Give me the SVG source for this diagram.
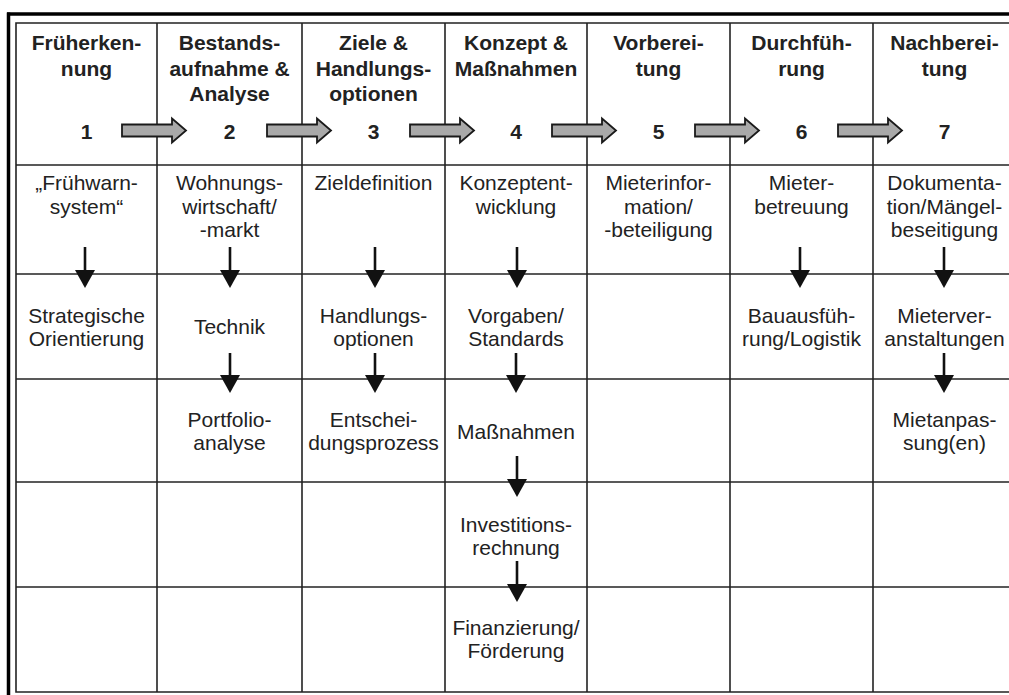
<svg xmlns="http://www.w3.org/2000/svg" width="1009" height="695" viewBox="0 0 1009 695">
<style>
  .grid { stroke: #222; stroke-width: 1.6; fill: none; }
  .frame { stroke: #000; stroke-width: 3.5; fill: none; }
  .h { font-family: "Liberation Sans", Arial, sans-serif; font-weight: bold; font-size: 21px; fill: #222; text-anchor: middle; }
  .t { font-family: "Liberation Sans", Arial, sans-serif; font-size: 21px; fill: #222; text-anchor: middle; }
  .down { stroke: #111; stroke-width: 2.6; fill: none; marker-end: url(#head); }
  .block { fill: #a9a9a9; stroke: #1a1a1a; stroke-width: 1.8; stroke-linejoin: miter; }
</style>
<defs>
  <marker id="head" viewBox="0 0 18 20" markerWidth="18" markerHeight="20" refX="0" refY="10" orient="auto" markerUnits="userSpaceOnUse">
    <path d="M0,0 L18,10 L0,20 z" fill="#111"/>
  </marker>
</defs>
<rect width="1009" height="695" fill="#fff"/>

<g id="frame">
  <line class="frame" x1="7" y1="14" x2="1009" y2="14"/>
  <line class="frame" x1="8.5" y1="12.5" x2="8.5" y2="695"/>
</g>

<g id="grid">
  <polyline class="grid" points="1009,23 16,23 16,692 1009,692"/>
  <line class="grid" x1="157" y1="23" x2="157" y2="692"/>
  <line class="grid" x1="302" y1="23" x2="302" y2="692"/>
  <line class="grid" x1="445" y1="23" x2="445" y2="692"/>
  <line class="grid" x1="587" y1="23" x2="587" y2="692"/>
  <line class="grid" x1="730" y1="23" x2="730" y2="692"/>
  <line class="grid" x1="873" y1="23" x2="873" y2="692"/>
  <line class="grid" x1="16" y1="165" x2="1009" y2="165"/>
  <line class="grid" x1="16" y1="274" x2="1009" y2="274"/>
  <line class="grid" x1="16" y1="379" x2="1009" y2="379"/>
  <line class="grid" x1="16" y1="482" x2="1009" y2="482"/>
  <line class="grid" x1="16" y1="587" x2="1009" y2="587"/>
</g>

<g id="header-1"><text class="h" x="86.5" y="50">Früherken-</text><text class="h" x="86.5" y="75.5">nung</text><text class="h" x="86.5" y="139">1</text></g>
<g id="header-2"><text class="h" x="229.5" y="50">Bestands-</text><text class="h" x="229.5" y="75.5">aufnahme &amp;</text><text class="h" x="229.5" y="101">Analyse</text><text class="h" x="229.5" y="139">2</text></g>
<g id="header-3"><text class="h" x="373.5" y="50">Ziele &amp;</text><text class="h" x="373.5" y="75.5">Handlungs-</text><text class="h" x="373.5" y="101">optionen</text><text class="h" x="373.5" y="139">3</text></g>
<g id="header-4"><text class="h" x="516" y="50">Konzept &amp;</text><text class="h" x="516" y="75.5">Maßnahmen</text><text class="h" x="516" y="139">4</text></g>
<g id="header-5"><text class="h" x="658.5" y="50">Vorberei-</text><text class="h" x="658.5" y="75.5">tung</text><text class="h" x="658.5" y="139">5</text></g>
<g id="header-6"><text class="h" x="801.5" y="50">Durchfüh-</text><text class="h" x="801.5" y="75.5">rung</text><text class="h" x="801.5" y="139">6</text></g>
<g id="header-7"><text class="h" x="944.5" y="50">Nachberei-</text><text class="h" x="944.5" y="75.5">tung</text><text class="h" x="944.5" y="139">7</text></g>

<g id="fruehwarnsystem"><text class="t" x="86.5" y="190">„Frühwarn-</text><text class="t" x="86.5" y="213.5">system“</text></g>
<g id="wohnungswirtschaft"><text class="t" x="229.5" y="190">Wohnungs-</text><text class="t" x="229.5" y="213.5">wirtschaft/</text><text class="t" x="229.5" y="237">-markt</text></g>
<g id="zieldefinition"><text class="t" x="373.5" y="190">Zieldefinition</text></g>
<g id="konzeptentwicklung"><text class="t" x="516" y="190">Konzeptent-</text><text class="t" x="516" y="213.5">wicklung</text></g>
<g id="mieterinformation"><text class="t" x="658.5" y="190">Mieterinfor-</text><text class="t" x="658.5" y="213.5">mation/</text><text class="t" x="658.5" y="237">-beteiligung</text></g>
<g id="mieterbetreuung"><text class="t" x="801.5" y="190">Mieter-</text><text class="t" x="801.5" y="213.5">betreuung</text></g>
<g id="dokumentation"><text class="t" x="944.5" y="190">Dokumenta-</text><text class="t" x="944.5" y="213.5">tion/Mängel-</text><text class="t" x="944.5" y="237">beseitigung</text></g>

<g id="strategische-orientierung"><text class="t" x="86.5" y="322.5">Strategische</text><text class="t" x="86.5" y="345.5">Orientierung</text></g>
<g id="technik"><text class="t" x="229.5" y="334">Technik</text></g>
<g id="handlungsoptionen"><text class="t" x="373.5" y="322.5">Handlungs-</text><text class="t" x="373.5" y="345.5">optionen</text></g>
<g id="vorgaben"><text class="t" x="516" y="322.5">Vorgaben/</text><text class="t" x="516" y="345.5">Standards</text></g>
<g id="bauausfuehrung"><text class="t" x="801.5" y="322.5">Bauausfüh-</text><text class="t" x="801.5" y="345.5">rung/Logistik</text></g>
<g id="mieterveranstaltungen"><text class="t" x="944.5" y="322.5">Mieterver-</text><text class="t" x="944.5" y="345.5">anstaltungen</text></g>

<g id="portfolioanalyse"><text class="t" x="229.5" y="427">Portfolio-</text><text class="t" x="229.5" y="450">analyse</text></g>
<g id="entscheidungsprozess"><text class="t" x="373.5" y="427">Entschei-</text><text class="t" x="373.5" y="450">dungsprozess</text></g>
<g id="massnahmen"><text class="t" x="516" y="438.5">Maßnahmen</text></g>
<g id="mietanpassung"><text class="t" x="944.5" y="427">Mietanpas-</text><text class="t" x="944.5" y="450">sung(en)</text></g>

<g id="investitionsrechnung"><text class="t" x="516" y="532">Investitions-</text><text class="t" x="516" y="555">rechnung</text></g>
<g id="finanzierung"><text class="t" x="516" y="635">Finanzierung/</text><text class="t" x="516" y="658">Förderung</text></g>

<g id="connectors">
  <polygon class="block" points="122,124.5 172,124.5 172,118.5 186,130.5 172,142.5 172,136.5 122,136.5"/>
  <polygon class="block" points="267,124.5 317,124.5 317,118.5 331,130.5 317,142.5 317,136.5 267,136.5"/>
  <polygon class="block" points="410,124.5 460,124.5 460,118.5 474,130.5 460,142.5 460,136.5 410,136.5"/>
  <polygon class="block" points="552,124.5 602,124.5 602,118.5 616,130.5 602,142.5 602,136.5 552,136.5"/>
  <polygon class="block" points="695,124.5 745,124.5 745,118.5 759,130.5 745,142.5 745,136.5 695,136.5"/>
  <polygon class="block" points="838,124.5 888,124.5 888,118.5 902,130.5 888,142.5 888,136.5 838,136.5"/>

  <line class="down" x1="85" y1="247" x2="85" y2="270"/>
  <line class="down" x1="230" y1="247" x2="230" y2="270"/>
  <line class="down" x1="375" y1="247" x2="375" y2="270"/>
  <line class="down" x1="517" y1="247" x2="517" y2="270"/>
  <line class="down" x1="800" y1="247" x2="800" y2="270"/>
  <line class="down" x1="944" y1="247" x2="944" y2="270"/>

  <line class="down" x1="230" y1="353" x2="230" y2="375"/>
  <line class="down" x1="375" y1="353" x2="375" y2="375"/>
  <line class="down" x1="516" y1="353" x2="516" y2="375"/>
  <line class="down" x1="944" y1="353" x2="944" y2="375"/>

  <line class="down" x1="517" y1="456" x2="517" y2="479"/>
  <line class="down" x1="517" y1="561" x2="517" y2="584"/>
</g>
</svg>
